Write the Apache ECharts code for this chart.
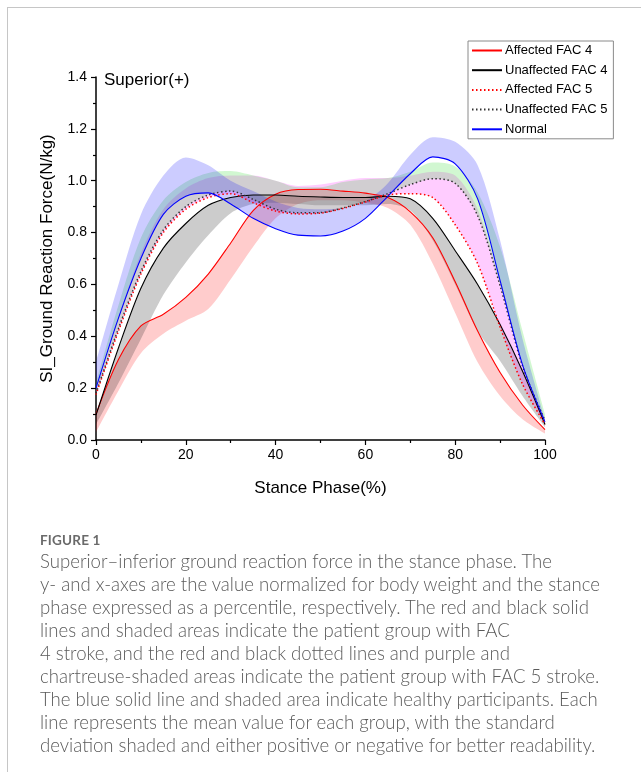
<!DOCTYPE html>
<html>
<head>
<meta charset="utf-8">
<script src="https://cdn.jsdelivr.net/npm/echarts@6.0.0/dist/echarts.min.js"></script>
<style>
  html, body { margin: 0; padding: 0; background: #fff; }
  #wrap { position: relative; width: 641px; height: 772px; overflow: hidden; }
  #frame { position: absolute; left: 7px; top: 7px; right: -5px; bottom: -5px;
    border-top: 1px solid #c6c6c6; border-left: 1px solid #c6c6c6; }
  #chart { position: absolute; left: 0; top: 0; width: 641px; height: 772px; }
  #caption { position: absolute; left: 40px; top: 530px; color: #5a5a5a;
    font-family: Lato, "Open Sans", sans-serif; }
  #caption .fig { font-size: 13.5px; font-weight: 700; color: #6a6a6a; line-height: 20px; letter-spacing: 0.2px; }
  #caption .ln { font-size: 18.6px; font-weight: 300; line-height: 23px; white-space: nowrap; }
</style>
</head>
<body>
<div id="wrap">
  <div id="frame"></div>
  <div id="chart"></div>
  <div id="caption">
    <div class="fig">FIGURE 1</div>
    <div class="ln">Superior–inferior ground reaction force in the stance phase. The</div>
    <div class="ln">y- and x-axes are the value normalized for body weight and the stance</div>
    <div class="ln">phase expressed as a percentile, respectively. The red and black solid</div>
    <div class="ln">lines and shaded areas indicate the patient group with FAC</div>
    <div class="ln">4 stroke, and the red and black dotted lines and purple and</div>
    <div class="ln">chartreuse-shaded areas indicate the patient group with FAC 5 stroke.</div>
    <div class="ln">The blue solid line and shaded area indicate healthy participants. Each</div>
    <div class="ln">line represents the mean value for each group, with the standard</div>
    <div class="ln">deviation shaded and either positive or negative for better readability.</div>
  </div>
</div>
<script>
// stance phase (%)
const phase = [0, 5, 10, 15, 20, 25, 30, 35, 40, 45, 50, 55, 60, 65, 70, 75, 80, 85, 90, 95, 100];

// mean curves (N/kg)
const affected4 = [0.10, 0.31, 0.44, 0.485, 0.55, 0.64, 0.76, 0.885, 0.948, 0.966, 0.967, 0.96, 0.952, 0.935, 0.88, 0.78, 0.61, 0.42, 0.26, 0.135, 0.04];
const unaffected4 = [0.096, 0.355, 0.585, 0.74, 0.835, 0.905, 0.935, 0.945, 0.945, 0.94, 0.937, 0.935, 0.935, 0.94, 0.93, 0.855, 0.73, 0.60, 0.445, 0.265, 0.06];
const affected5 = [0.175, 0.42, 0.64, 0.80, 0.89, 0.935, 0.95, 0.915, 0.883, 0.872, 0.875, 0.893, 0.918, 0.945, 0.95, 0.935, 0.83, 0.68, 0.435, 0.215, 0.06];
const unaffected5 = [0.18, 0.43, 0.65, 0.81, 0.90, 0.945, 0.96, 0.928, 0.89, 0.876, 0.877, 0.895, 0.92, 0.95, 0.985, 1.008, 0.99, 0.865, 0.595, 0.285, 0.075];
const normal = [0.20, 0.47, 0.70, 0.87, 0.94, 0.953, 0.91, 0.855, 0.815, 0.79, 0.787, 0.806, 0.855, 0.94, 1.027, 1.092, 1.065, 0.93, 0.615, 0.29, 0.07];

// edge of the one-sided SD band
const affected4Edge = [0.03, 0.19, 0.335, 0.41, 0.46, 0.505, 0.62, 0.745, 0.855, 0.91, 0.925, 0.925, 0.915, 0.895, 0.83, 0.68, 0.49, 0.30, 0.17, 0.08, 0.025];
const unaffected4Edge = [0.06, 0.22, 0.39, 0.56, 0.685, 0.79, 0.875, 0.91, 0.915, 0.91, 0.905, 0.905, 0.905, 0.91, 0.885, 0.77, 0.60, 0.42, 0.305, 0.17, 0.05];
const affected5Edge = [0.20, 0.47, 0.72, 0.89, 0.97, 1.01, 1.02, 1.02, 1.0, 0.98, 0.985, 1.0, 1.01, 1.01, 1.02, 1.035, 1.02, 0.89, 0.61, 0.29, 0.08];
const unaffected5Edge = [0.22, 0.52, 0.78, 0.925, 0.995, 1.03, 1.037, 1.02, 1.0, 0.975, 0.975, 0.995, 1.005, 1.01, 1.035, 1.07, 1.055, 0.955, 0.745, 0.42, 0.10];
const normalEdge = [0.30, 0.60, 0.87, 1.02, 1.09, 1.06, 1.0, 0.96, 0.92, 0.895, 0.89, 0.895, 0.92, 0.99, 1.10, 1.168, 1.15, 1.06, 0.77, 0.39, 0.08];

const xTicks = [0, 20, 40, 60, 80, 100];
const yTicks = [0, 0.2, 0.4, 0.6, 0.8, 1.0, 1.2, 1.4];

const font = '"Liberation Sans", Arial, sans-serif';
const smoothing = 0.3;

// bands are stacked on a hidden category axis that lines up with the value axis
function band(id, lower, upper, color) {
  return [
    {
      name: id + '-base',
      type: 'line',
      xAxisIndex: 1,
      stack: id,
      smooth: smoothing,
      symbol: 'none',
      lineStyle: { opacity: 0 },
      silent: true,
      z: 1,
      data: lower,
    },
    {
      name: id + '-band',
      type: 'line',
      xAxisIndex: 1,
      stack: id,
      smooth: smoothing,
      symbol: 'none',
      lineStyle: { opacity: 0 },
      areaStyle: { color: color, opacity: 1 },
      silent: true,
      z: 1,
      data: upper.map((v, i) => +(v - lower[i]).toFixed(4)),
    },
  ];
}

function meanLine(name, arr, color, dotted) {
  return {
    name,
    type: 'line',
    xAxisIndex: 1,
    smooth: smoothing,
    symbol: 'none',
    z: 5,
    lineStyle: { color, width: dotted ? 1.5 : 1.1, type: dotted ? [1.5, 2.5] : 'solid' },
    itemStyle: { color },
    data: arr,
  };
}

const chart = echarts.init(document.getElementById('chart'));

chart.setOption({
  animation: false,
  grid: { left: 96, right: 96, top: 77, bottom: 332 },
  legend: {
    orient: 'vertical',
    left: 468,
    top: 41,
    data: ['Affected FAC 4', 'Unaffected FAC 4', 'Affected FAC 5', 'Unaffected FAC 5', 'Normal'],
    itemWidth: 30,
    itemHeight: 10,
    itemGap: 6.7,
    padding: [3, 6, 3, 3],
    borderColor: '#8a8a8a',
    borderWidth: 1,
    itemStyle: { opacity: 0 },
    textStyle: { fontFamily: font, fontSize: 13, color: '#000', padding: [0, 0, 0, -2] },
  },
  xAxis: [
    {
      type: 'value',
      min: 0,
      max: 100,
      interval: 20,
      name: 'Stance Phase(%)',
      nameLocation: 'middle',
      nameGap: 40,
      nameTextStyle: { fontFamily: font, fontSize: 17, color: '#000' },
      axisLine: { lineStyle: { color: '#000', width: 1.5 } },
      axisTick: { length: 5, lineStyle: { color: '#000', width: 1.2 } },
      minorTick: { show: true, splitNumber: 2, length: 3, lineStyle: { color: '#000', width: 1.2 } },
      splitLine: { show: false },
      axisLabel: {
        fontFamily: font, fontSize: 14, color: '#000', margin: 8,
        formatter: (v) => (xTicks.includes(v) ? String(v) : ''),
      },
    },
    {
      type: 'category',
      data: phase,
      boundaryGap: false,
      show: false,
    },
  ],
  yAxis: {
    type: 'value',
    min: 0,
    max: 1.4,
    interval: 0.2,
    name: 'SI_Ground Reaction Force(N/kg)',
    nameLocation: 'middle',
    nameGap: 40,
    nameTextStyle: { fontFamily: font, fontSize: 17, color: '#000' },
    axisLine: { show: true, lineStyle: { color: '#000', width: 1.5 } },
    axisTick: { show: true, length: 5, lineStyle: { color: '#000', width: 1.2 } },
    minorTick: { show: true, splitNumber: 2, length: 3, lineStyle: { color: '#000', width: 1.2 } },
    splitLine: { show: false },
    axisLabel: {
      fontFamily: font, fontSize: 14, color: '#000', margin: 9,
      formatter: (v) => {
        const t = yTicks.find((k) => Math.abs(k - v) < 1e-6);
        return t === undefined ? '' : t.toFixed(1);
      },
    },
  },
  graphic: [
    {
      type: 'text',
      left: 104,
      top: 72,
      style: { text: 'Superior(+)', font: '17px ' + font, fill: '#000' },
    },
  ],
  series: [
    ...band('a4', affected4Edge, affected4, 'rgba(255,0,0,0.2)'),
    ...band('u4', unaffected4Edge, unaffected4, 'rgba(0,0,0,0.2)'),
    ...band('a5', affected5, affected5Edge, 'rgba(255,0,255,0.2)'),
    ...band('u5', unaffected5, unaffected5Edge, 'rgba(0,210,0,0.18)'),
    ...band('n', normal, normalEdge, 'rgba(0,0,255,0.2)'),
    meanLine('Affected FAC 4', affected4, '#ff0000', false),
    meanLine('Unaffected FAC 4', unaffected4, '#000000', false),
    meanLine('Affected FAC 5', affected5, '#ff0000', true),
    meanLine('Unaffected FAC 5', unaffected5, '#333333', true),
    meanLine('Normal', normal, '#0000ff', false),
  ],
});
</script>
</body>
</html>
